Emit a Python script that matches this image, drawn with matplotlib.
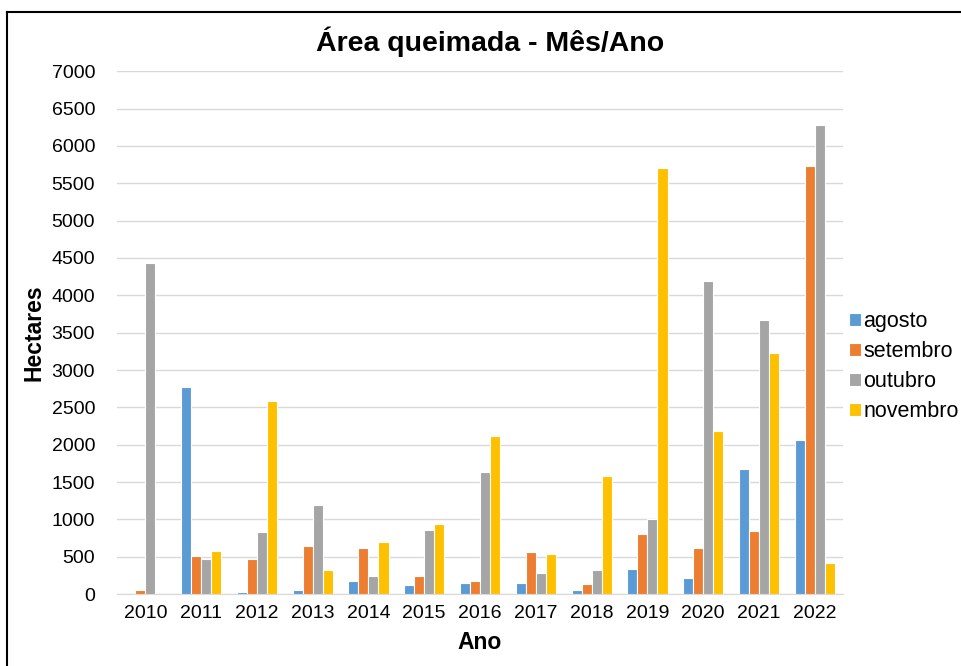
import numpy as np
import matplotlib.pyplot as plt
from matplotlib.lines import Line2D

anos = ['2010', '2011', '2012', '2013', '2014', '2015', '2016',
        '2017', '2018', '2019', '2020', '2021', '2022']
meses = ['agosto', 'setembro', 'outubro', 'novembro']

agosto = [0, 2770, 27, 50, 178, 125, 143, 143, 50, 330, 218, 1677, 2061]
setembro = [50, 509, 464, 647, 620, 237, 178, 562, 138, 803, 612, 839, 5725]
outubro = [4430, 472, 826, 1191, 245, 861, 1633, 277, 321, 1008, 4190, 3668, 6282]
novembro = [0, 571, 2583, 321, 696, 933, 2115, 535, 1579, 5700, 2182, 3230, 419]

cores = ['#5B9BD5', '#ED7D31', '#A5A5A5', '#FFC000']

plt.rcParams['font.family'] = ['Liberation Sans', 'DejaVu Sans']

fig = plt.figure(figsize=(9.62, 6.66), dpi=100)
ax = fig.add_axes([0.122, 0.108, 0.754, 0.785])

x = np.arange(len(anos))
w = 0.18
series = [agosto, setembro, outubro, novembro]
for i, (vals, cor, nome) in enumerate(zip(series, cores, meses)):
    ax.bar(x + (i - 1.5) * w, vals, w, color=cor, edgecolor='white',
           linewidth=0.8, label=nome, zorder=3)

ax.set_xlim(-0.5, len(anos) - 0.5)
ax.set_ylim(0, 7000)
ax.set_yticks(np.arange(0, 7001, 500))
ax.set_xticks(x)
ax.set_xticklabels(anos)
ax.tick_params(axis='both', length=0, labelsize=14, colors='#000000')
ax.tick_params(axis='y', pad=16)
ax.tick_params(axis='x', pad=8)
ax.grid(axis='y', color='#D9D9D9', linewidth=1, zorder=0)
for s in ['top', 'right', 'left']:
    ax.spines[s].set_visible(False)
ax.spines['bottom'].set_color('#D9D9D9')

ax.set_xlabel('Ano', fontsize=16.5, fontweight='bold', labelpad=6)
ax.set_ylabel('Hectares', fontsize=16.5, fontweight='bold', labelpad=4)
fig.text(0.509, 0.937, 'Área queimada - Mês/Ano', ha='center', va='center',
         fontsize=20.5, fontweight='bold')

ax.legend(loc='center left', bbox_to_anchor=(0.982, 0.435), frameon=False,
          fontsize=15.5, handlelength=0.55, handleheight=0.55,
          handletextpad=0.12, labelspacing=0.42)

# moldura
fig.add_artist(Line2D([0.007, 0.007], [0, 0.982], color='black', linewidth=1.5))
fig.add_artist(Line2D([0.007, 1.0], [0.982, 0.982], color='black', linewidth=1.5))

fig.savefig('out.png', dpi=100)
